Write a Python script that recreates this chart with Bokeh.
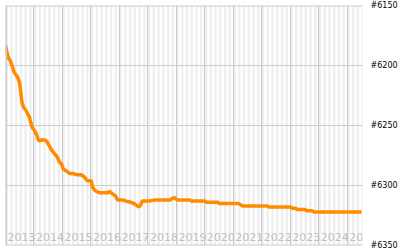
from bokeh.plotting import figure
from bokeh.models import Range1d, FixedTicker, CustomJSTickFormatter, Span
from bokeh.core.properties import value
from bokeh.embed import file_html
from bokeh.resources import INLINE

# decimal-year dates and rank values
dates = [2013.00, 2013.06, 2013.11, 2013.17, 2013.23, 2013.27, 2013.31, 2013.38, 2013.43, 2013.49,
         2013.52, 2013.55, 2013.58, 2013.64, 2013.73, 2013.77, 2013.84, 2013.89, 2013.95, 2014.01,
         2014.08, 2014.14, 2014.18, 2014.27, 2014.39, 2014.47, 2014.63, 2014.81, 2014.91, 2014.97,
         2015.02, 2015.14, 2015.26, 2015.37, 2015.49, 2015.63, 2015.72, 2015.81, 2015.86, 2016.01,
         2016.05, 2016.13, 2016.20, 2016.30, 2016.59, 2016.65, 2016.76, 2016.88, 2016.93, 2017.11,
         2017.23, 2017.40, 2017.51, 2017.63, 2017.69, 2017.75, 2017.80, 2018.03, 2018.27, 2018.79,
         2018.84, 2018.94, 2019.02, 2019.48, 2019.52, 2020.00, 2020.06, 2020.47, 2020.49, 2021.18,
         2021.25, 2021.33, 2022.20, 2022.26, 2023.01, 2023.07, 2023.18, 2023.24, 2023.53, 2023.57,
         2023.76, 2023.82, 2025.50]
ranks = [6183, 6190, 6194, 6196, 6200, 6203, 6206, 6208, 6210, 6214,
         6219, 6225, 6231, 6235, 6238, 6240, 6243, 6248, 6252, 6254,
         6257, 6261, 6263, 6262, 6262, 6264, 6271, 6276, 6281, 6282,
         6286, 6288, 6290, 6290, 6291, 6291, 6292, 6294, 6296, 6296,
         6301, 6304, 6305, 6306, 6306, 6305, 6307, 6309, 6312, 6312,
         6313, 6314, 6315, 6317, 6318, 6316, 6313, 6313, 6312, 6312,
         6311, 6310, 6312, 6312, 6313, 6313, 6314, 6314, 6315, 6315,
         6316, 6317, 6317, 6318, 6318, 6319, 6319, 6320, 6320, 6321,
         6321, 6322, 6322]

years = list(range(2013, 2026))
year_labels = [str(y) for y in years]
rank_ticks = [6150, 6200, 6250, 6300, 6350]

X0, X1 = 2013.0, 2025.535
Y_TOP, Y_BOT = 6150, 6350

p = figure(width=400, height=250, output_backend="svg", toolbar_location=None,
           x_range=Range1d(X0, X1), y_range=Range1d(Y_BOT, Y_TOP),
           y_axis_location="right", x_axis_location=None,
           min_border_left=5, min_border_top=5, min_border_bottom=5, min_border_right=34,
           background_fill_color="white", border_fill_color="white")
p.outline_line_color = None
p.xgrid.visible = False
p.ygrid.visible = False

# monthly alternating stripes
lefts, rights = [], []
for y in years:
    for m in range(0, 12, 2):
        lefts.append(y + m / 12)
        rights.append(y + (m + 1) / 12)
p.quad(left=lefts, right=rights, bottom=Y_BOT, top=Y_TOP, fill_color="#efefef", line_color=None)

# year lines and rank lines
p.vspan(x=years[1:], line_color="#c8c8c8", line_width=1)
p.hspan(y=rank_ticks[1:-1], line_color="#cccccc", line_width=1)

# year labels
p.text(x=years, y=[Y_BOT] * len(years), text=year_labels, x_offset=2, y_offset=-5,
       text_baseline="bottom", text_align="left", text_color="#c0c0c0",
       text_font=value("DejaVu Sans"), text_font_size="11px")

# borders
p.add_layout(Span(location=X0, dimension="height", line_color="#cccccc", line_width=3))
p.add_layout(Span(location=Y_TOP, dimension="width", line_color="#cccccc", line_width=2))
p.add_layout(Span(location=Y_BOT, dimension="width", line_color="#cccccc", line_width=2))

# rank line
p.line(dates, ranks, line_color="#ff8c00", line_width=3.5)

ax = p.yaxis[0]
ax.ticker = FixedTicker(ticks=rank_ticks)
ax.formatter = CustomJSTickFormatter(code="return '#' + tick;")
ax.axis_line_color = None
ax.major_tick_line_color = None
ax.minor_tick_line_color = None
ax.major_label_standoff = 2
ax.major_label_text_font = "DejaVu Sans"
ax.major_label_text_font_size = "8px"
ax.major_label_text_color = "black"

open("out.html", "w").write(file_html(p, INLINE))
